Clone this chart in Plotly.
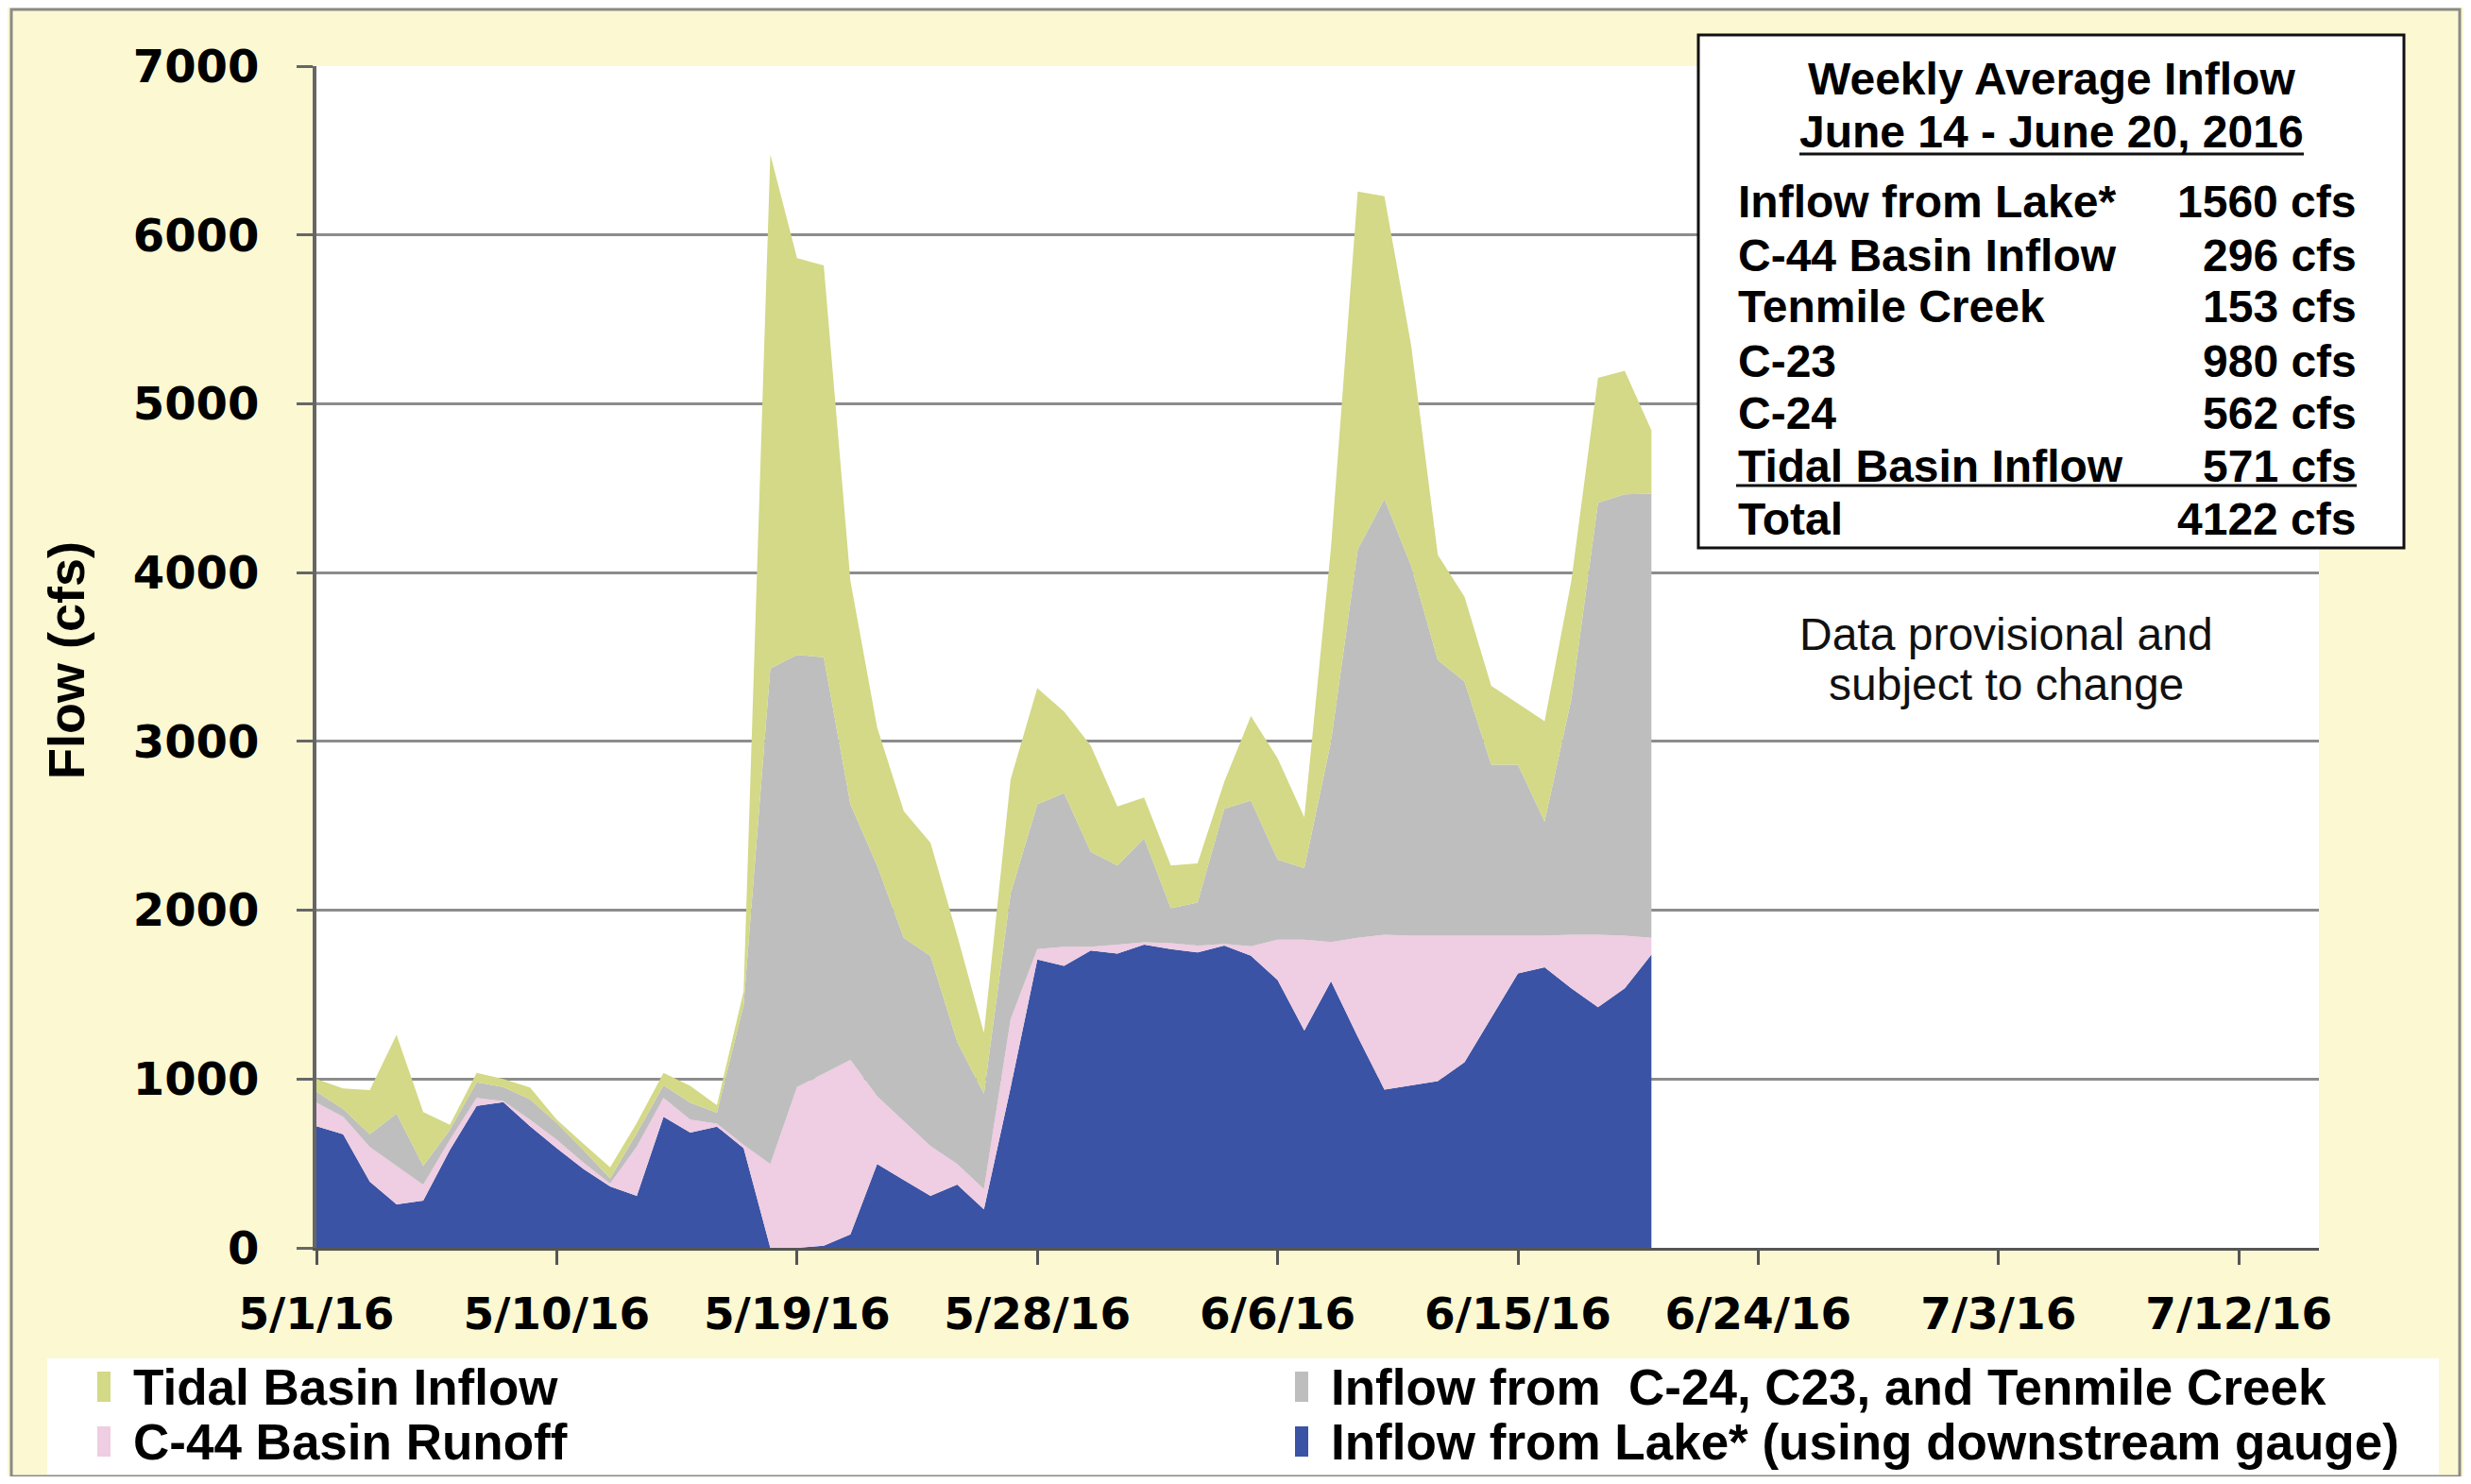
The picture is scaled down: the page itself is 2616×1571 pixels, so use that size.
import plotly.graph_objects as go
import pandas as pd

# ---------------- data ----------------
dates = pd.date_range("2016-05-01", "2016-06-20", freq="D")

lake = [720, 673, 392, 258, 280, 580, 841, 863, 720, 590,
        467, 364, 308, 776, 682, 718, 590, 0, 0, 13,
        80, 496, 402, 308, 375, 228, 950, 1708, 1670, 1761,
        1743, 1796, 1769, 1750, 1790, 1730, 1587, 1287, 1580, 1250,
        937, 962, 987, 1100, 1362, 1625, 1662, 1537, 1425, 1537, 1737]

c44_runoff = [140, 103, 206, 228, 94, 60, 47, 6, 40, 50,
              38, 16, 292, 112, 78, 18, 20, 496, 952, 1019,
              1033, 402, 349, 295, 121, 121, 404, 61, 113, 22,
              53, 14, 35, 40, 10, 57, 238, 538, 232, 587,
              918, 888, 863, 750, 488, 225, 188, 318, 430, 313, 100]

c24_c23_tenmile = [65, 46, 75, 308, 112, 60, 93, 84, 120, 100,
                   74, 31, 80, 75, 100, 64, 830, 2936, 2560, 2467,
                   1514, 1367, 1085, 1126, 724, 563, 746, 858, 911, 563,
                   469, 616, 207, 255, 800, 863, 475, 425, 1188, 2299,
                   2581, 2190, 1632, 1504, 1012, 1012, 675, 1395, 2559, 2614, 2631]

tidal = [75, 122, 262, 468, 318, 29, 56, 47, 70, 20,
         38, 66, 60, 74, 100, 45, 80, 3045, 2351, 2321,
         1323, 818, 751, 670, 630, 361, 675, 689, 483, 630,
         349, 242, 254, 232, 160, 500, 600, 300, 1150, 2121,
         1793, 1306, 622, 503, 468, 363, 595, 700, 740, 732, 375]

tick_dates = ["2016-05-01", "2016-05-10", "2016-05-19", "2016-05-28", "2016-06-06",
              "2016-06-15", "2016-06-24", "2016-07-03", "2016-07-12"]
tick_labels = ["5/1/16", "5/10/16", "5/19/16", "5/28/16", "6/6/16",
               "6/15/16", "6/24/16", "7/3/16", "7/12/16"]

series_names = ["Inflow from Lake* (using downstream gauge)", "C-44 Basin Runoff",
                "Inflow from \u00a0C-24, C23, and Tenmile Creek", "Tidal Basin Inflow"]
series_colors = ["#3A53A4", "#EFCDE2", "#BEBEBE", "#D3D986"]

box_title = "Weekly Average Inflow"
box_period = "June 14 - June 20, 2016"
box_labels = ["Inflow from Lake*", "C-44 Basin Inflow", "Tenmile Creek", "C-23", "C-24",
              "Tidal Basin Inflow", "Total"]
box_values = ["1560 cfs", "296 cfs", "153 cfs", "980 cfs", "562 cfs", "571 cfs", "4122 cfs"]

# ---------------- layout geometry (screen pixel coordinates) ----------------
W, H = 2616, 1571
OFF = 8                      # page body margin
FW, FH = W - 2 * OFF, H - 2 * OFF
L, R, T, B = 335, 2455, 70, 1321


def px(x):
    return (x - L) / (R - L)


def py(y):
    return (B - y) / (B - T)


BG = "#FBF8D2"
ARIAL = "Liberation Sans, Arial, sans-serif"
TICKFONT = "DejaVu Sans, Verdana, sans-serif"

fig = go.Figure()
for name, vals, col in zip(series_names, [lake, c44_runoff, c24_c23_tenmile, tidal], series_colors):
    fig.add_trace(go.Scatter(
        x=dates, y=vals, name=name, mode="lines", stackgroup="one",
        line=dict(width=0, color=col), fillcolor=col,
    ))

shapes = []
annotations = []

# outer border
shapes.append(dict(type="rect", xref="paper", yref="paper",
                   x0=px(12), x1=px(2604), y0=py(1563), y1=py(10),
                   line=dict(color="#8a8a8a", width=3), layer="below"))

# text box
shapes.append(dict(type="rect", xref="paper", yref="paper",
                   x0=px(1798), x1=px(2545), y0=py(580), y1=py(37),
                   line=dict(color="#111111", width=3), fillcolor="white", layer="above"))
shapes.append(dict(type="line", xref="paper", yref="paper",
                   x0=px(1905), x1=px(2439), y0=py(163), y1=py(163),
                   line=dict(color="#111111", width=3), layer="above"))
shapes.append(dict(type="line", xref="paper", yref="paper",
                   x0=px(1838), x1=px(2495), y0=py(514), y1=py(514),
                   line=dict(color="#111111", width=3), layer="above"))

annotations.append(dict(text="<b>" + box_title + "</b>", xref="paper", yref="paper",
                        x=px(2172), y=py(84), xanchor="center", yanchor="middle", showarrow=False,
                        font=dict(family=ARIAL, size=48, color="black")))
annotations.append(dict(text="<b>" + box_period + "</b>", xref="paper", yref="paper",
                        x=px(2172), y=py(140), xanchor="center", yanchor="middle", showarrow=False,
                        font=dict(family=ARIAL, size=48, color="black")))
row_y = [213, 270, 325, 382, 437, 494, 549]
for lab, val, yy in zip(box_labels, box_values, row_y):
    annotations.append(dict(text="<b>" + lab + "</b>", xref="paper", yref="paper",
                            x=px(1838), y=py(yy), xanchor="left", yanchor="middle", showarrow=False,
                            font=dict(family=ARIAL, size=48, color="black")))
    annotations.append(dict(text="<b>" + val + "</b>", xref="paper", yref="paper",
                            x=px(2497), y=py(yy), xanchor="right", yanchor="middle", showarrow=False,
                            font=dict(family=ARIAL, size=48, color="black")))

# provisional note
for txt, yy in [("Data provisional and", 671), ("subject to change", 724)]:
    annotations.append(dict(text=txt, xref="paper", yref="paper",
                            x=px(2124), y=py(yy), xanchor="center", yanchor="middle", showarrow=False,
                            font=dict(family=ARIAL, size=48, color="#111111")))

# y axis title
annotations.append(dict(text="<b>Flow (cfs)</b>", xref="paper", yref="paper",
                        x=px(70), y=py(699), xanchor="center", yanchor="middle", showarrow=False,
                        textangle=-90, font=dict(family=ARIAL, size=54, color="black")))

# legend box
shapes.append(dict(type="rect", xref="paper", yref="paper",
                   x0=px(50), x1=px(2582), y0=py(1561), y1=py(1438),
                   line=dict(width=0), fillcolor="white", layer="above"))
legend_items = [
    (series_names[3], series_colors[3], 103, 1468),
    (series_names[2], series_colors[2], 1371, 1468),
    (series_names[1], series_colors[1], 103, 1526),
    (series_names[0], series_colors[0], 1371, 1526),
]
for name, col, lx, ly in legend_items:
    shapes.append(dict(type="rect", xref="paper", yref="paper",
                       x0=px(lx), x1=px(lx + 14), y0=py(ly + 16), y1=py(ly - 16),
                       line=dict(width=0), fillcolor=col, layer="above"))
    annotations.append(dict(text="<b>" + name + "</b>", xref="paper", yref="paper",
                            x=px(lx + 36), y=py(ly), xanchor="left", yanchor="middle", showarrow=False,
                            font=dict(family=ARIAL, size=53, color="black")))

fig.update_layout(
    width=FW, height=FH,
    margin=dict(l=L - OFF, r=FW - (R - OFF), t=T - OFF, b=FH - (B - OFF), pad=0),
    paper_bgcolor=BG, plot_bgcolor="white",
    showlegend=False,
    shapes=shapes, annotations=annotations,
    xaxis=dict(
        type="date", range=["2016-05-01", "2016-07-15"],
        tickvals=tick_dates, ticktext=tick_labels,
        ticks="outside", ticklen=15, tickwidth=3, tickcolor="#555555",
        showline=True, linecolor="#555555", linewidth=3,
        showgrid=False, zeroline=False,
        tickfont=dict(family=TICKFONT, size=47, color="black", weight="bold"),
        ticklabelstandoff=12,
    ),
    yaxis=dict(
        range=[0, 7000], tickvals=[0, 1000, 2000, 3000, 4000, 5000, 6000, 7000],
        ticks="outside", ticklen=17, tickwidth=3, tickcolor="#666666",
        showline=True, linecolor="#666666", linewidth=4,
        showgrid=True, gridcolor="#8c8c8c", gridwidth=2.5, zeroline=False,
        tickfont=dict(family=TICKFONT, size=48, color="black", weight="bold"),
        ticklabelstandoff=30,
    ),
)

fig.write_html("out.html")
